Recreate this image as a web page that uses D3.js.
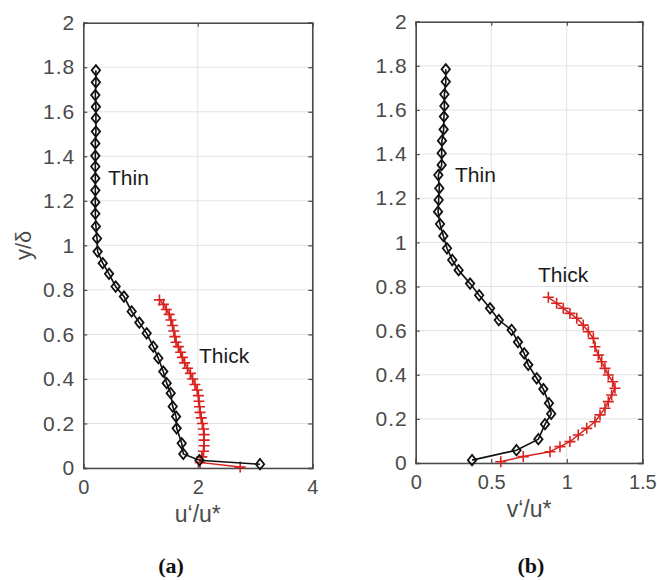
<!DOCTYPE html>
<html>
<head>
<meta charset="utf-8">
<script src="https://cdn.jsdelivr.net/npm/d3@7"></script>
<style>
  html, body { margin: 0; padding: 0; background: #fff; }
  svg { display: block; }
  text { font-family: "Liberation Sans", Arial, Helvetica, sans-serif; }
</style>
</head>
<body>
<svg id="chart" width="657" height="580"></svg>
<script>
// ---------- data ----------
const yTickValues = [0, 0.2, 0.4, 0.6, 0.8, 1, 1.2, 1.4, 1.6, 1.8, 2];
const yTickLabels = ["0", "0.2", "0.4", "0.6", "0.8", "1", "1.2", "1.4", "1.6", "1.8", "2"];
const xTickValuesA = [0, 2, 4];
const xTickLabelsA = ["0", "2", "4"];
const xTickValuesB = [0, 0.5, 1, 1.5];
const xTickLabelsB = ["0", "0.5", "1", "1.5"];
const seriesNames = ["Thin", "Thick"];
const axisLabelsX = ["u\u2018/u*", "v\u2018/u*"];
const axisLabelY = "y/\u03b4";
const panelTags = ["(a)", "(b)"];

// panel (a): u'/u*
const thinA_y = [1.786, 1.732, 1.675, 1.622, 1.571, 1.511, 1.458, 1.402, 1.354, 1.301, 1.247, 1.194, 1.142, 1.085, 1.031, 0.972, 0.920, 0.872, 0.815, 0.770, 0.703, 0.653, 0.605, 0.545, 0.493, 0.433, 0.381, 0.336, 0.276, 0.231, 0.178, 0.111, 0.063, 0.035, 0.017];
const thinA_x = [0.22, 0.22, 0.21, 0.22, 0.22, 0.22, 0.21, 0.21, 0.21, 0.21, 0.21, 0.21, 0.21, 0.22, 0.24, 0.25, 0.34, 0.45, 0.565, 0.71, 0.845, 0.978, 1.107, 1.223, 1.31, 1.397, 1.457, 1.527, 1.562, 1.62, 1.631, 1.719, 1.747, 2.03, 3.087];
const thickA_y = [0.755, 0.735, 0.712, 0.690, 0.665, 0.640, 0.615, 0.590, 0.565, 0.545, 0.520, 0.497, 0.472, 0.448, 0.425, 0.400, 0.375, 0.350, 0.325, 0.300, 0.275, 0.250, 0.225, 0.200, 0.175, 0.150, 0.125, 0.100, 0.075, 0.050, 0.025, 0.004];
const thickA_x = [1.33, 1.40, 1.45, 1.50, 1.53, 1.56, 1.58, 1.60, 1.62, 1.66, 1.70, 1.73, 1.77, 1.82, 1.87, 1.91, 1.95, 1.99, 2.01, 2.02, 2.03, 2.04, 2.06, 2.08, 2.10, 2.11, 2.11, 2.11, 2.10, 2.07, 2.04, 2.74];

// panel (b): v'/u*
const thinB_y = [1.784, 1.728, 1.671, 1.618, 1.570, 1.512, 1.461, 1.404, 1.351, 1.305, 1.245, 1.192, 1.139, 1.083, 1.029, 0.973, 0.920, 0.874, 0.813, 0.760, 0.701, 0.648, 0.603, 0.548, 0.497, 0.445, 0.384, 0.335, 0.271, 0.223, 0.176, 0.108, 0.058, 0.013];
const thinB_x = [0.199, 0.199, 0.19, 0.19, 0.187, 0.185, 0.174, 0.172, 0.172, 0.15, 0.156, 0.152, 0.148, 0.161, 0.183, 0.207, 0.242, 0.284, 0.36, 0.42, 0.492, 0.55, 0.635, 0.677, 0.718, 0.745, 0.801, 0.845, 0.882, 0.897, 0.856, 0.812, 0.667, 0.373];
const thickB_y = [0.751, 0.724, 0.701, 0.678, 0.656, 0.625, 0.595, 0.565, 0.527, 0.489, 0.459, 0.429, 0.399, 0.368, 0.339, 0.308, 0.278, 0.248, 0.218, 0.187, 0.157, 0.127, 0.097, 0.074, 0.051, 0.029, 0.006];
const thickB_x = [0.878, 0.933, 0.977, 1.021, 1.066, 1.109, 1.143, 1.176, 1.187, 1.209, 1.231, 1.253, 1.275, 1.304, 1.319, 1.297, 1.275, 1.253, 1.220, 1.187, 1.132, 1.076, 1.021, 0.955, 0.889, 0.712, 0.563];

// ---------- layout ----------
const panels = [
  { left: 83.3, right: 312.3, top: 22.7, bottom: 468, xDomain: [0, 4], xt: xTickValuesA, xl: xTickLabelsA,
    thin: [thinA_x, thinA_y], thick: [thickA_x, thickA_y],
    thinLbl: [108, 185], thickLbl: [199, 363], xLabel: axisLabelsX[0], tag: panelTags[0], tagX: 171, showY: true },
  { left: 415.7, right: 642.3, top: 21.7, bottom: 463, xDomain: [0, 1.5], xt: xTickValuesB, xl: xTickLabelsB,
    thin: [thinB_x, thinB_y], thick: [thickB_x, thickB_y],
    thinLbl: [455, 182], thickLbl: [538, 282], xLabel: axisLabelsX[1], tag: panelTags[1], tagX: 531, showY: false }
];

const svg = d3.select("#chart");
const tickColor = "#4a4a4a";
const red = "#d8231f";

const diamond = "M0,-5.2L4.2,0L0,5.2L-4.2,0Z";
const plus = "M-5.5,0H5.5M0,-5.5V5.5";

panels.forEach(p => {
  const x = d3.scaleLinear().domain(p.xDomain).range([p.left, p.right]);
  const y = d3.scaleLinear().domain([0, 2]).range([p.bottom, p.top]);
  const g = svg.append("g");

  // grid
  g.append("g").selectAll("line").data(p.xt).enter().append("line")
    .attr("x1", d => x(d)).attr("x2", d => x(d)).attr("y1", p.top).attr("y2", p.bottom)
    .attr("stroke", "#e3e3e3").attr("stroke-width", 1);
  g.append("g").selectAll("line").data(yTickValues).enter().append("line")
    .attr("x1", p.left).attr("x2", p.right).attr("y1", d => y(d)).attr("y2", d => y(d))
    .attr("stroke", "#e3e3e3").attr("stroke-width", 1);

  // axes with inward ticks
  const axB = d3.axisBottom(x).tickValues(p.xt).tickSize(-4).tickFormat((d, i) => p.xl[i]).tickPadding(12);
  const axT = d3.axisTop(x).tickValues(p.xt).tickSize(-4).tickFormat("");
  const axL = d3.axisLeft(y).tickValues(yTickValues).tickSize(-4).tickFormat((d, i) => yTickLabels[i]).tickPadding(8);
  const axR = d3.axisRight(y).tickValues(yTickValues).tickSize(-4).tickFormat("");

  const style = (sel, fs, ls) => {
    sel.selectAll("path").attr("stroke", tickColor).attr("stroke-width", 1.6);
    sel.selectAll("line").attr("stroke", tickColor).attr("stroke-width", 1.2);
    sel.selectAll("text").attr("fill", tickColor).style("font-size", fs + "px")
      .style("letter-spacing", ls + "px")
      .style("font-family", "'Liberation Sans', Arial, sans-serif");
  };
  g.append("g").attr("transform", `translate(0,${p.bottom})`).call(axB).call(style, 20, 0);
  g.append("g").attr("transform", `translate(0,${p.top})`).call(axT).call(style, 20, 0);
  g.append("g").attr("transform", `translate(${p.left},0)`).call(axL).call(style, 21, 1);
  g.append("g").attr("transform", `translate(${p.right},0)`).call(axR).call(style, 20, 0);

  const line = d3.line().x(d => x(d[0])).y(d => y(d[1]));

  // thick (red)
  const thickPts = p.thick[0].map((v, i) => [v, p.thick[1][i]]);
  g.append("path").datum(thickPts).attr("d", line).attr("fill", "none")
    .attr("stroke", red).attr("stroke-width", 1.5);
  g.append("g").selectAll("path").data(thickPts).enter().append("path")
    .attr("d", plus).attr("transform", d => `translate(${x(d[0])},${y(d[1])})`)
    .attr("fill", "none").attr("stroke", red).attr("stroke-width", 1.6);

  // thin (black)
  const thinPts = p.thin[0].map((v, i) => [v, p.thin[1][i]]);
  g.append("path").datum(thinPts).attr("d", line).attr("fill", "none")
    .attr("stroke", "#111").attr("stroke-width", 1.6);
  g.append("g").selectAll("path").data(thinPts).enter().append("path")
    .attr("d", diamond).attr("transform", d => `translate(${x(d[0])},${y(d[1])})`)
    .attr("fill", "none").attr("stroke", "#111").attr("stroke-width", 1.8);

  // series labels
  g.append("text").attr("x", p.thinLbl[0]).attr("y", p.thinLbl[1]).text(seriesNames[0])
    .attr("fill", "#1a1a1a").style("font-size", "21px");
  g.append("text").attr("x", p.thickLbl[0]).attr("y", p.thickLbl[1]).text(seriesNames[1])
    .attr("fill", "#1a1a1a").style("font-size", "21px");

  // x label
  g.append("text").attr("x", (p.left + p.right) / 2).attr("y", p.bottom + 54)
    .attr("text-anchor", "middle").attr("fill", tickColor).style("font-size", "23px").text(p.xLabel);

  // tag
  g.append("text").attr("x", p.tagX).attr("y", 573)
    .attr("text-anchor", "middle").attr("fill", "#111")
    .style("font-family", "'Liberation Serif', 'Times New Roman', serif")
    .style("font-weight", "bold").style("font-size", "22px").text(p.tag);

  if (p.showY) {
    g.append("text").attr("transform", `translate(31,${(p.top + p.bottom) / 2})rotate(-90)`)
      .attr("text-anchor", "middle").attr("fill", tickColor).style("font-size", "22px").text(axisLabelY);
  }
});
</script>
</body>
</html>
